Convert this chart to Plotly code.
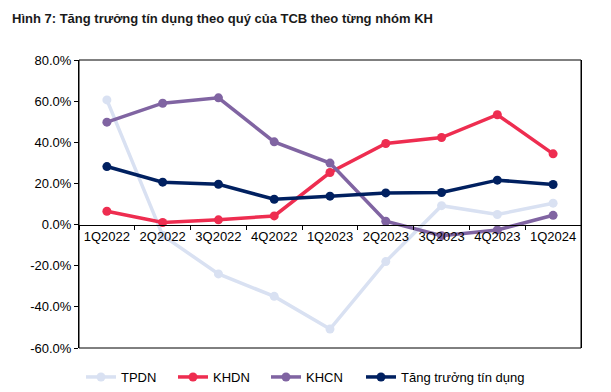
import plotly.graph_objects as go

quarters = ["1Q2022", "2Q2022", "3Q2022", "4Q2022", "1Q2023", "2Q2023", "3Q2023", "4Q2023", "1Q2024"]
tpdn = [60.6, -5.3, -24.0, -34.9, -50.8, -18.0, 9.2, 4.9, 10.4]
khdn = [6.5, 1.0, 2.3, 4.2, 25.3, 39.4, 42.3, 53.4, 34.4]
khcn = [49.8, 59.0, 61.6, 40.2, 29.9, 1.6, -5.4, -2.6, 4.5]
total = [28.2, 20.6, 19.6, 12.3, 13.8, 15.4, 15.6, 21.6, 19.5]

series = [
    ("TPDN", tpdn, "#D9E1F2"),
    ("KHDN", khdn, "#EE2D50"),
    ("KHCN", khcn, "#8064A2"),
    ("Tăng trưởng tín dụng", total, "#002060"),
]

y_ticks = [80, 60, 40, 20, 0, -20, -40, -60]
y_min, y_max = -60, 80

legend_ids = ["legend", "legend2", "legend3", "legend4"]
legend_x_px = [81, 173, 266, 361]

fig = go.Figure()
for (name, vals, color), lid in zip(series, legend_ids):
    fig.add_trace(go.Scatter(
        x=quarters, y=vals, name=name, mode="lines+markers",
        line=dict(color=color, width=3.5),
        marker=dict(color=color, size=9),
        legend=lid,
    ))

font = "Liberation Sans, Arial, sans-serif"

def legend_cfg(xpx):
    return dict(
        orientation="h", xref="container", x=xpx / 611, xanchor="left",
        yref="container", y=1 - 377 / 392, yanchor="middle",
        font=dict(family=font, size=13, color="black"),
        bgcolor="rgba(0,0,0,0)", itemwidth=30,
    )

fig.update_layout(
    width=611, height=392,
    margin=dict(l=79, r=30, t=60, b=44, pad=0, autoexpand=False),
    paper_bgcolor="white", plot_bgcolor="white",
    font=dict(family=font, size=13, color="black"),
    title=dict(
        text="<b>Hình 7: Tăng trưởng tín dụng theo quý của TCB theo từng nhóm KH</b>",
        x=12 / 611, xanchor="left", xref="container",
        y=1 - 18 / 392, yanchor="middle", yref="container",
        font=dict(family=font, size=13, color="#1a1a1a"),
    ),
    showlegend=True,
    xaxis=dict(
        type="category", categoryorder="array", categoryarray=quarters,
        anchor="free", position=(0 - y_min) / (y_max - y_min),
        showline=True, linecolor="black", linewidth=1,
        ticks="outside", tickson="boundaries", ticklen=4, tickcolor="black",
        showgrid=False, zeroline=False,
        tickfont=dict(family=font, size=13, color="black"),
        range=[-0.5, 8.5],
    ),
    yaxis=dict(
        range=[y_min, y_max], tickvals=y_ticks,
        ticktext=[f"{v:.1f}%" for v in y_ticks],
        showline=True, linecolor="black", linewidth=1, mirror=True,
        ticks="outside", ticklen=4, tickcolor="black",
        showgrid=False, zeroline=False,
        tickfont=dict(family=font, size=13, color="black"),
    ),
    shapes=[dict(
        type="rect", xref="x domain", yref="y domain", x0=0, x1=1, y0=0, y1=1,
        line=dict(color="black", width=1), layer="above",
    )],
)
fig.update_layout({lid: legend_cfg(px) for lid, px in zip(legend_ids, legend_x_px)})

fig.write_html("out.html", config={"displayModeBar": False},
               post_script="document.body.style.margin='0';document.body.style.overflow='hidden';")
